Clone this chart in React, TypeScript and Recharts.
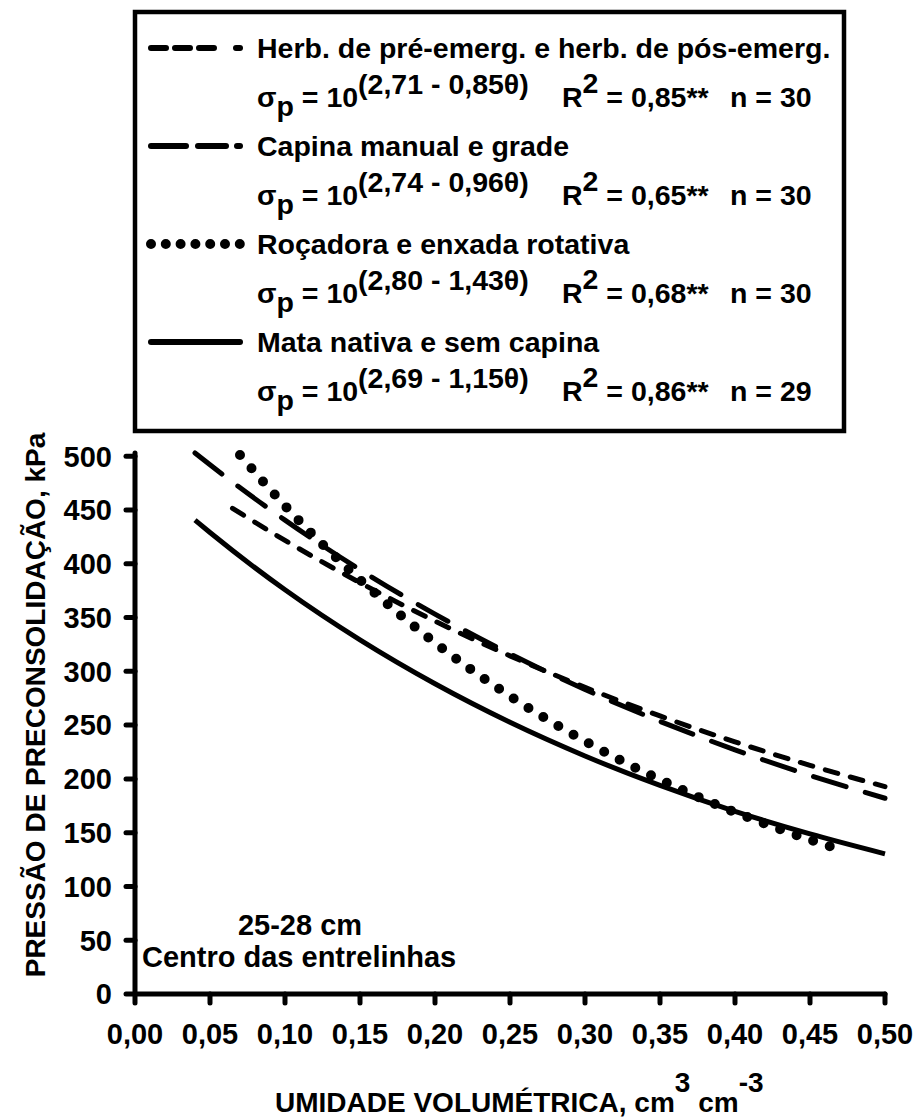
import React from 'react';
import { ComposedChart, Line, XAxis, YAxis } from 'recharts';

// θ (cm3 cm-3) and σp (kPa)
const herbTheta = [0.065, 0.1, 0.15, 0.2, 0.25, 0.3, 0.35, 0.4, 0.45, 0.5];
const herbSigma = [451.6, 421.7, 382.4, 346.7, 314.4, 285.1, 258.5, 234.4, 212.6, 192.8];

const capinaTheta = [0.04, 0.05, 0.1, 0.15, 0.2, 0.25, 0.3, 0.35, 0.4, 0.45, 0.5];
const capinaSigma = [503.0, 492.0, 440.6, 394.5, 353.2, 316.2, 283.1, 253.5, 227.0, 203.2, 182.0];

const rocaTheta = [0.07, 0.1, 0.15, 0.2, 0.25, 0.3, 0.35, 0.4, 0.45, 0.47];
const rocaSigma = [501.1, 453.9, 385.1, 326.6, 277.0, 235.0, 199.3, 169.0, 143.4, 134.2];

const mataTheta = [0.04, 0.05, 0.1, 0.15, 0.2, 0.25, 0.3, 0.35, 0.4, 0.45, 0.5];
const mataSigma = [440.6, 429.1, 375.8, 329.2, 288.4, 252.6, 221.3, 193.9, 169.8, 148.8, 130.3];

const xTicks = [0, 0.05, 0.1, 0.15, 0.2, 0.25, 0.3, 0.35, 0.4, 0.45, 0.5];
const yTicks = [0, 50, 100, 150, 200, 250, 300, 350, 400, 450, 500];

const toRows = (t: number[], s: number[]) => t.map((x, i) => ({ theta: x, sigma: s[i] }));

const herbData = toRows(herbTheta, herbSigma);
const capinaData = toRows(capinaTheta, capinaSigma);
const rocaData = toRows(rocaTheta, rocaSigma);
const mataData = toRows(mataTheta, mataSigma);

const FONT = 'Liberation Sans, Arial, sans-serif';
const FS = 29;
const LFS = 28.5;

const axisStyle = { stroke: '#000', strokeWidth: 5, strokeLinecap: 'round' as const };

function Formula({ y, a, b, r2, n }: { y: number; a: string; b: string; r2: string; n: string }) {
  return (
    <text x={257} y={y} fontSize={LFS} fontWeight="bold" fontFamily={FONT} style={{ whiteSpace: 'pre' }}>
      <tspan>σ</tspan>
      <tspan dy={9}>p</tspan>
      <tspan dy={-9}> = 10</tspan>
      <tspan dy={-13}>{`(${a} - ${b}θ)`}</tspan>
      <tspan x={562} dy={13}>R</tspan>
      <tspan dy={-14}>2</tspan>
      <tspan dy={14}>{` = ${r2}**`}</tspan>
      <tspan x={730}>{`n = ${n}`}</tspan>
    </text>
  );
}

function Overlay() {
  const name = (y: number, s: string) => (
    <text x={257} y={y} fontSize={LFS} fontWeight="bold" fontFamily={FONT}>{s}</text>
  );
  return (
    <svg width={918} height={1120} style={{ position: 'absolute', left: 0, top: 0, pointerEvents: 'none' }}>
      <rect x={135} y={12} width={709} height={419} fill="none" stroke="#000" strokeWidth={4.5} />
      {/* legend samples */}
      <line x1={151} y1={48} x2={221} y2={48} stroke="#000" strokeWidth={6} strokeDasharray="15 9" strokeLinecap="round" />
      <line x1={236} y1={48} x2={240} y2={48} stroke="#000" strokeWidth={6} strokeLinecap="round" />
      <line x1={151} y1={146} x2={186} y2={146} stroke="#000" strokeWidth={6} strokeLinecap="round" />
      <line x1={198} y1={146} x2={226} y2={146} stroke="#000" strokeWidth={6} strokeLinecap="round" />
      <line x1={237} y1={146} x2={240} y2={146} stroke="#000" strokeWidth={6} strokeLinecap="round" />
      <line x1={151} y1={244} x2={240} y2={244} stroke="#000" strokeWidth={10} strokeDasharray="0 14.8" strokeLinecap="round" />
      <line x1={151} y1={342} x2={240} y2={342} stroke="#000" strokeWidth={6} strokeLinecap="round" />
      {name(58, 'Herb. de pré-emerg. e herb. de pós-emerg.')}
      <Formula y={107} a="2,71" b="0,85" r2="0,85" n="30" />
      {name(156, 'Capina manual e grade')}
      <Formula y={205} a="2,74" b="0,96" r2="0,65" n="30" />
      {name(254, 'Roçadora e enxada rotativa')}
      <Formula y={303} a="2,80" b="1,43" r2="0,68" n="30" />
      {name(352, 'Mata nativa e sem capina')}
      <Formula y={401} a="2,69" b="1,15" r2="0,86" n="29" />

      {/* axis titles */}
      <text transform="translate(45,705) rotate(-90)" textAnchor="middle" fontSize={28} fontWeight="bold" fontFamily={FONT}>
        PRESSÃO DE PRECONSOLIDAÇÃO, kPa
      </text>
      <text x={275} y={1112} fontSize={28} fontWeight="bold" fontFamily={FONT} style={{ whiteSpace: 'pre' }}>
        <tspan>UMIDADE VOLUMÉTRICA, cm</tspan>
        <tspan dy={-20}>3</tspan>
        <tspan dy={20}> cm</tspan>
        <tspan dy={-20}>-3</tspan>
      </text>

      {/* annotations */}
      <text x={300} y={935} textAnchor="middle" fontSize={FS} fontWeight="bold" fontFamily={FONT}>25-28 cm</text>
      <text x={142} y={967} fontSize={FS} fontWeight="bold" fontFamily={FONT}>Centro das entrelinhas</text>
    </svg>
  );
}

export default function App() {
  return (
    <div style={{ position: 'absolute', left: 0, top: 0, width: 918, height: 1120, background: '#fff' }}>
      <ComposedChart width={918} height={1120} margin={{ top: 453, right: 33, bottom: 0, left: 0 }}>
        <XAxis
          type="number"
          dataKey="theta"
          domain={[0, 0.5]}
          ticks={xTicks}
          tickFormatter={(v: number) => v.toFixed(2).replace('.', ',')}
          height={126}
          tickSize={9}
          tickMargin={20}
          axisLine={axisStyle}
          tickLine={axisStyle}
          tick={{ fill: '#000', fontSize: FS, fontWeight: 'bold', fontFamily: FONT }}
          interval={0}
        />
        <YAxis
          type="number"
          domain={[0, 500]}
          ticks={yTicks}
          width={135}
          tickSize={9}
          tickMargin={14}
          axisLine={axisStyle}
          tickLine={axisStyle}
          tick={{ fill: '#000', fontSize: FS, fontWeight: 'bold', fontFamily: FONT }}
          interval={0}
        />
        <Line data={herbData} dataKey="sigma" type="monotone" stroke="#000" strokeWidth={5} strokeDasharray="13 13" strokeLinecap="round" dot={false} isAnimationActive={false} />
        <Line data={capinaData} dataKey="sigma" type="monotone" stroke="#000" strokeWidth={5} strokeDasharray="34 20" strokeLinecap="round" dot={false} isAnimationActive={false} />
        <Line data={rocaData} dataKey="sigma" type="monotone" stroke="#000" strokeWidth={10} strokeDasharray="0 17.5" strokeLinecap="round" dot={false} isAnimationActive={false} />
        <Line data={mataData} dataKey="sigma" type="monotone" stroke="#000" strokeWidth={5} dot={false} isAnimationActive={false} />
      </ComposedChart>
      <Overlay />
    </div>
  );
}
